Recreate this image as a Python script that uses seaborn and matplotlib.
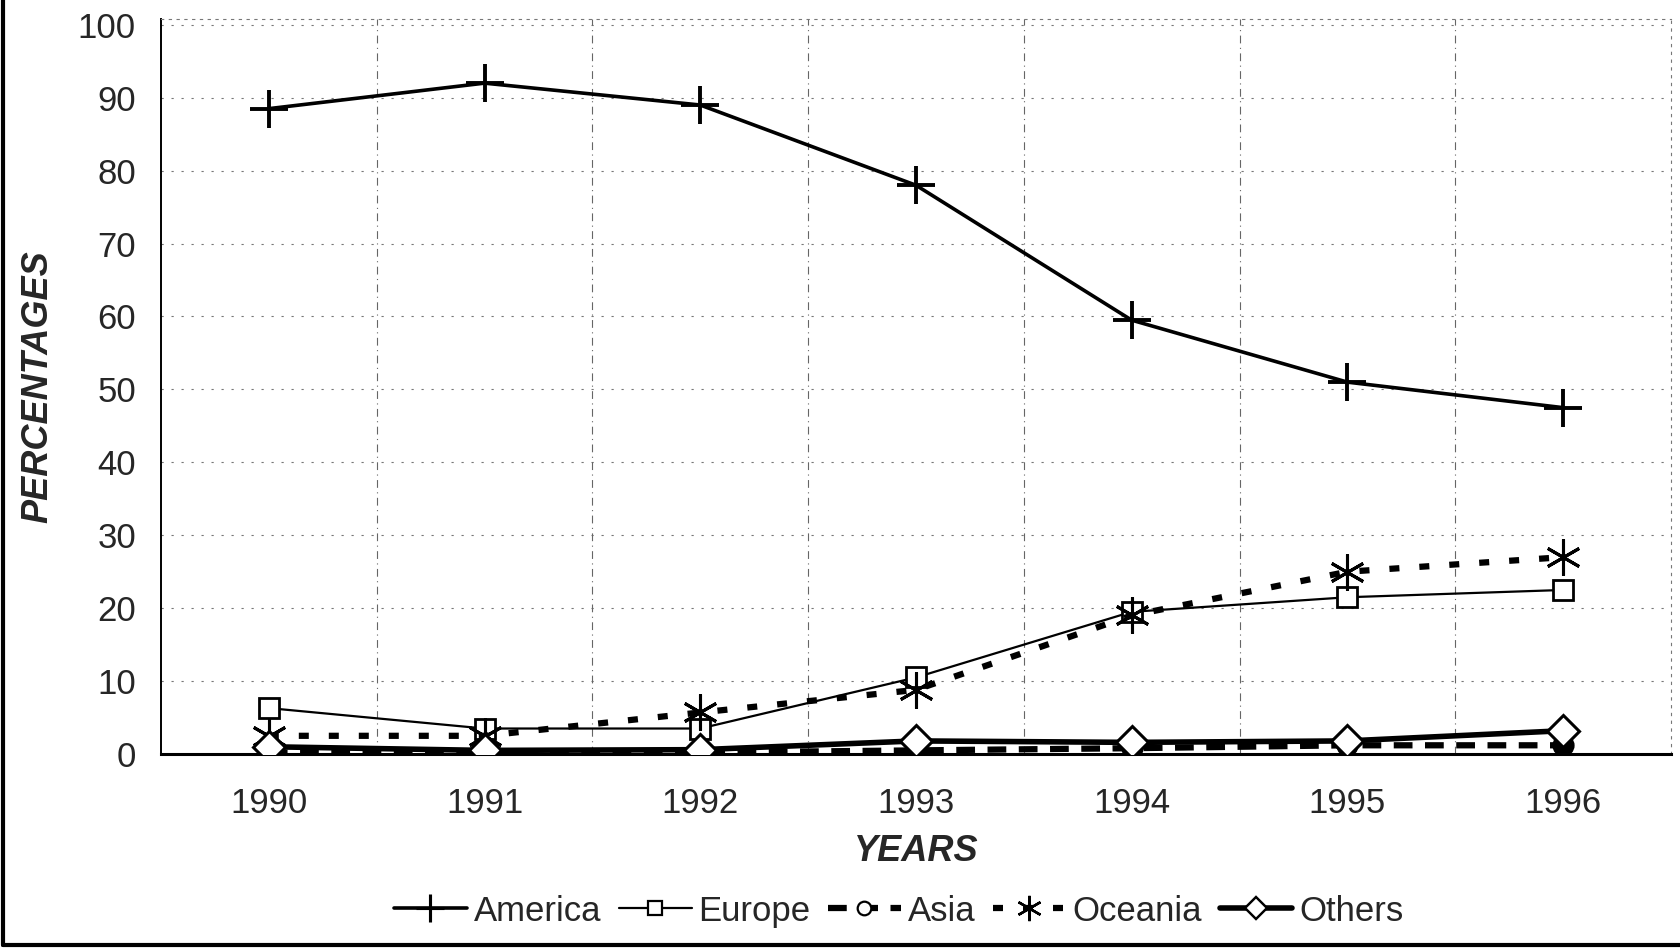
import numpy as np
import pandas as pd
import matplotlib
matplotlib.use("Agg")
from matplotlib import pyplot as plt
from matplotlib.lines import Line2D
import seaborn as sns

# values
years = ["1990", "1991", "1992", "1993", "1994", "1995", "1996"]
america = [88.5, 92.0, 89.0, 78.0, 59.5, 51.0, 47.5]
europe = [6.3, 3.5, 3.5, 10.5, 19.5, 21.5, 22.5]
asia = [0.2, 0.1, 0.2, 0.5, 0.8, 1.2, 1.2]
oceania = [2.5, 2.5, 5.7, 8.8, 19.0, 25.0, 27.0]
others = [1.0, 0.5, 0.6, 1.8, 1.6, 1.8, 3.2]

sns.set_theme(style="white")
plt.rcParams["font.family"] = ["Liberation Sans", "DejaVu Sans"]

x = np.arange(len(years))
df = pd.DataFrame({"x": x, "America": america, "Europe": europe, "Asia": asia,
                   "Oceania": oceania, "Others": others})

fig = plt.figure(figsize=(16.8, 9.48), dpi=100)
ax = fig.add_axes([0.0958, 0.2046, 0.8988, 0.7754])

styles = {
    "America": dict(lw=2.6, ls="-", marker="+", ms=28, mew=2.8, mfc="none"),
    "Europe": dict(lw=1.6, ls="-", marker="s", ms=14, mew=2.0, mfc="white"),
    "Asia": dict(lw=4.5, ls=(0, (3, 2)), marker="o", ms=14, mew=2.0, mfc="black"),
    "Oceania": dict(lw=4.5, ls=(0, (1.6, 3.2)), marker=(6, 2, 0), ms=26, mew=2.2, mfc="none"),
    "Others": dict(lw=4.0, ls="-", marker="D", ms=16, mew=2.2, mfc="white"),
}
order = ["America", "Europe", "Asia", "Oceania", "Others"]
for name in order:
    st = styles[name]
    sns.lineplot(data=df, x="x", y=name, ax=ax, color="black", linewidth=st["lw"],
                 linestyle=st["ls"], marker=st["marker"], markersize=st["ms"],
                 markeredgewidth=st["mew"], markerfacecolor=st["mfc"],
                 markeredgecolor="black", label=name, legend=False, zorder=3)

ax.set_xlim(-0.5, 6.5)
ax.set_ylim(0, 100.8)
ax.set_yticks(np.arange(0, 101, 10))
ax.set_xticks(x)
ax.set_xticklabels(years)
ax.tick_params(axis="both", labelsize=25, length=0)
ax.tick_params(axis="y", pad=18)
ax.tick_params(axis="x", pad=24)

# grid: horizontal at ticks, vertical at category boundaries
for yv in np.arange(10, 101, 10):
    ax.axhline(yv, color="#777777", lw=0.8, ls=(0, (2, 7)), zorder=1)
for xv in np.arange(0.5, 6.5, 1.0):
    ax.axvline(xv, color="#666666", lw=0.8, ls=(0, (7, 4, 1, 4)), zorder=1)

for side in ["top", "right"]:
    ax.spines[side].set_color("#777777")
    ax.spines[side].set_linewidth(0.8)
    ax.spines[side].set_linestyle((0, (2, 5)))
ax.spines["left"].set_color("black")
ax.spines["left"].set_linewidth(1.4)
ax.spines["bottom"].set_color("black")
ax.spines["bottom"].set_linewidth(2.2)

ax.set_xlabel("YEARS", fontsize=26, fontweight="bold", fontstyle="italic", labelpad=10)
ax.set_ylabel("PERCENTAGES", fontsize=26, fontweight="bold", fontstyle="italic", labelpad=16)

handles = []
for name in order:
    st = styles[name]
    handles.append(Line2D([], [], color="black", lw=st["lw"], ls=st["ls"],
                          marker=st["marker"], ms=st["ms"] * 0.7,
                          mew=st["mew"] * 0.8, mfc="white" if name != "America" else "none",
                          mec="black", label=name))
fig.legend(handles=handles, loc="center", bbox_to_anchor=(0.535, 0.039), ncol=5,
           frameon=False, fontsize=25, handlelength=2.1, handletextpad=0.2,
           columnspacing=0.5)

# border of the scanned figure (left and bottom)
fig.add_artist(Line2D([0.002, 0.002], [0.003, 1.0], transform=fig.transFigure,
                      color="black", lw=3))
fig.add_artist(Line2D([0.002, 1.0], [0.003, 0.003], transform=fig.transFigure,
                      color="black", lw=3))

fig.savefig("out.png", dpi=100)
